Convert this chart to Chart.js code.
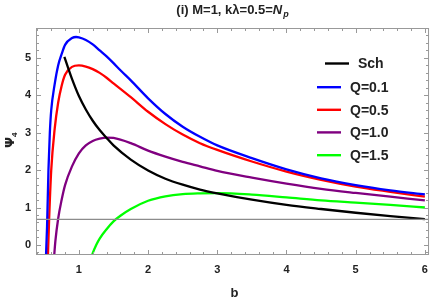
<!DOCTYPE html>
<html>
<head>
<meta charset="utf-8">
<script src="https://cdn.jsdelivr.net/npm/chart.js@4.4.1/dist/chart.umd.min.js"></script>
<style>
  html, body { margin: 0; padding: 0; background: #fff; }
  #wrap { width: 436px; height: 300px; }
</style>
</head>
<body>
<div id="wrap"><canvas id="psi_chart" width="436" height="300"></canvas></div>
<script>
// Du lieu doc tu hinh (b, Psi_4)
var schB   = [0.79, 0.85, 0.9, 1.0, 1.1, 1.2, 1.3, 1.4, 1.5, 1.75, 2.0, 2.25, 2.5, 2.75, 3.0, 3.5, 4.0, 4.5, 5.0, 5.5, 6.0];
var schPsi = [5.03, 4.7, 4.44, 3.98, 3.62, 3.32, 3.07, 2.86, 2.66, 2.28, 1.99, 1.77, 1.61, 1.48, 1.38, 1.21, 1.07, 0.96, 0.86, 0.77, 0.69];

var q01B   = [0.51, 0.54, 0.56, 0.58, 0.6, 0.65, 0.7, 0.75, 0.8, 0.9, 0.96, 1.0, 1.1, 1.2, 1.3, 1.4, 1.5, 1.6, 1.75, 2.0, 2.25, 2.5, 2.75, 3.0, 3.5, 4.0, 4.5, 5.0, 5.5, 6.0];
var q01Psi = [-1.0, 0.5, 2.0, 3.0, 3.6, 4.3, 4.8, 5.1, 5.35, 5.53, 5.56, 5.55, 5.48, 5.36, 5.2, 5.04, 4.86, 4.67, 4.4, 3.92, 3.5, 3.16, 2.89, 2.66, 2.32, 2.02, 1.78, 1.6, 1.46, 1.35];

var q05B   = [0.54, 0.57, 0.6, 0.65, 0.7, 0.75, 0.8, 0.9, 1.0, 1.1, 1.2, 1.3, 1.4, 1.5, 1.75, 2.0, 2.25, 2.5, 2.75, 3.0, 3.5, 4.0, 4.5, 5.0, 5.5, 6.0];
var q05Psi = [-1.0, 0.7, 2.0, 3.1, 3.8, 4.25, 4.55, 4.76, 4.80, 4.77, 4.7, 4.6, 4.47, 4.32, 3.95, 3.56, 3.23, 2.95, 2.72, 2.54, 2.23, 1.96, 1.74, 1.56, 1.42, 1.29];

var q10B   = [0.63, 0.66, 0.7, 0.75, 0.8, 0.9, 1.0, 1.1, 1.2, 1.3, 1.4, 1.5, 1.75, 2.0, 2.25, 2.5, 2.75, 3.0, 3.5, 4.0, 4.5, 5.0, 5.5, 6.0];
var q10Psi = [-0.6, 0.1, 0.7, 1.2, 1.6, 2.1, 2.45, 2.66, 2.78, 2.84, 2.87, 2.86, 2.72, 2.52, 2.36, 2.22, 2.1, 1.98, 1.8, 1.64, 1.5, 1.39, 1.29, 1.19];

var q15B   = [1.17, 1.2, 1.25, 1.3, 1.4, 1.5, 1.6, 1.75, 2.0, 2.25, 2.5, 2.75, 3.0, 3.5, 4.0, 4.5, 5.0, 5.5, 6.0];
var q15Psi = [-0.4, -0.22, 0.0, 0.17, 0.42, 0.63, 0.78, 0.96, 1.18, 1.3, 1.36, 1.38, 1.385, 1.345, 1.27, 1.19, 1.13, 1.07, 1.0];

var horizonPsi = 0.68;
var xTicks = [1, 2, 3, 4, 5, 6];
var yTicks = [0, 1, 2, 3, 4, 5];
var seriesNames  = ['Sch', 'Q=0.1', 'Q=0.5', 'Q=1.0', 'Q=1.5'];
var seriesColors = ['#000000', '#0000ff', '#ff0000', '#800080', '#00ff00'];

var X_MIN = 0.38, X_MAX = 6.06, Y_MIN = -0.27, Y_MAX = 5.8;

function toPoints(xs, ys) {
    return xs.map(function(x, i) { return { x: x, y: ys[i] }; });
}

var allB = [schB, q01B, q05B, q10B, q15B];
var allPsi = [schPsi, q01Psi, q05Psi, q10Psi, q15Psi];

var datasets = [{
    label: 'horizon',
    data: [{ x: X_MIN, y: horizonPsi }, { x: X_MAX, y: horizonPsi }],
    borderColor: '#8c8c8c',
    borderWidth: 1.3,
    pointRadius: 0,
    showLine: true
}];
seriesNames.forEach(function(name, i) {
    datasets.push({
        label: name,
        data: toPoints(allB[i], allPsi[i]),
        borderColor: seriesColors[i],
        borderWidth: 2.3,
        pointRadius: 0,
        showLine: true,
        cubicInterpolationMode: 'monotone'
    });
});

// vi tri chu giai (giong hinh goc: dong Sch lech phai)
var legendY     = [63.5, 87.2, 109.8, 132.4, 155.2];
var legendLineX = [325, 317, 317, 317, 317];

// Khung, vach chia, tieu de, chu giai
var framePlugin = {
    id: 'frame',
    afterDatasetsDraw: function(chart) {
        var ctx = chart.ctx, a = chart.chartArea;
        var xs = chart.scales.x, ys = chart.scales.y;
        ctx.save();
        ctx.strokeStyle = '#999999';
        ctx.lineWidth = 1;
        ctx.strokeRect(a.left + 0.5, a.top + 0.5, a.right - a.left - 1, a.bottom - a.top - 1);
        ctx.beginPath();
        var v, p, len;
        for (v = 0.4; v <= X_MAX + 1e-6; v += 0.2) {
            p = Math.round(xs.getPixelForValue(v)) + 0.5;
            len = Math.abs(v - Math.round(v)) < 1e-6 ? 5 : 3;
            ctx.moveTo(p, a.bottom); ctx.lineTo(p, a.bottom - len);
            ctx.moveTo(p, a.top); ctx.lineTo(p, a.top + len);
        }
        for (v = -0.2; v <= Y_MAX + 1e-6; v += 0.2) {
            p = Math.round(ys.getPixelForValue(v)) + 0.5;
            len = Math.abs(v - Math.round(v)) < 1e-6 ? 5 : 3;
            ctx.moveTo(a.left, p); ctx.lineTo(a.left + len, p);
            ctx.moveTo(a.right, p); ctx.lineTo(a.right - len, p);
        }
        ctx.stroke();

        // tieu de
        ctx.fillStyle = '#222';
        ctx.textBaseline = 'alphabetic';
        var f = 'bold 13px "Liberation Sans", Arial, sans-serif';
        var fi = 'italic bold 13px "Liberation Sans", Arial, sans-serif';
        var fs = 'italic bold 9px "Liberation Sans", Arial, sans-serif';
        var t1 = '(i) M=1, k\u03bb=0.5=';
        ctx.font = f; var w1 = ctx.measureText(t1).width;
        ctx.font = fi; var w2 = ctx.measureText('N').width;
        ctx.font = fs; var w3 = ctx.measureText('p').width;
        var tx = (a.left + a.right) / 2 - (w1 + w2 + w3 + 1) / 2, ty = 14;
        ctx.font = f; ctx.fillText(t1, tx, ty);
        ctx.font = fi; ctx.fillText('N', tx + w1, ty);
        ctx.font = fs; ctx.fillText('p', tx + w1 + w2 + 1, ty + 3);

        // nhan truc
        ctx.font = 'bold 13px "Liberation Sans", Arial, sans-serif';
        ctx.textAlign = 'center';
        ctx.fillText('b', (a.left + a.right) / 2 + 2, 297);
        ctx.save();
        ctx.translate(14, 140);
        ctx.rotate(-Math.PI / 2);
        ctx.textAlign = 'left';
        ctx.font = 'bold 13px "DejaVu Sans", sans-serif';
        ctx.fillText('\u03a8', -8, 0);
        ctx.font = 'bold 8px "Liberation Sans", Arial, sans-serif';
        ctx.fillText('4', 3, 3);
        ctx.restore();

        // chu giai
        ctx.textAlign = 'left';
        ctx.textBaseline = 'middle';
        ctx.font = 'bold 14px "Liberation Sans", Arial, sans-serif';
        seriesNames.forEach(function(name, i) {
            var y = legendY[i], x0 = legendLineX[i];
            ctx.strokeStyle = seriesColors[i];
            ctx.lineWidth = 2.4;
            ctx.beginPath();
            ctx.moveTo(x0, y); ctx.lineTo(x0 + 24, y);
            ctx.stroke();
            ctx.fillStyle = '#222';
            ctx.fillText(name, x0 + 33, y + 1);
        });
        ctx.restore();
    }
};

var ctxPsi = document.getElementById('psi_chart').getContext('2d');
new Chart(ctxPsi, {
    type: 'scatter',
    data: { datasets: datasets },
    options: {
        responsive: false,
        animation: false,
        devicePixelRatio: 1,
        layout: { padding: { top: 28, right: 6, left: 0, bottom: 0 } },
        plugins: { legend: { display: false }, tooltip: { enabled: false }, title: { display: false } },
        scales: {
            x: {
                type: 'linear', min: X_MIN, max: X_MAX,
                grid: { display: false, drawTicks: false },
                border: { display: false },
                afterFit: function(s) { s.height = 45; },
                afterBuildTicks: function(s) { s.ticks = xTicks.map(function(v) { return { value: v }; }); },
                ticks: { padding: 8, color: '#222', font: { family: '"Liberation Sans", Arial', size: 11, weight: 'bold' } }
            },
            y: {
                type: 'linear', min: Y_MIN, max: Y_MAX,
                grid: { display: false, drawTicks: false },
                border: { display: false },
                afterFit: function(s) { s.width = 36; },
                afterBuildTicks: function(s) { s.ticks = yTicks.map(function(v) { return { value: v }; }); },
                ticks: { padding: 5, color: '#222', font: { family: '"Liberation Sans", Arial', size: 11, weight: 'bold' } }
            }
        }
    },
    plugins: [framePlugin]
});
</script>
</body>
</html>
